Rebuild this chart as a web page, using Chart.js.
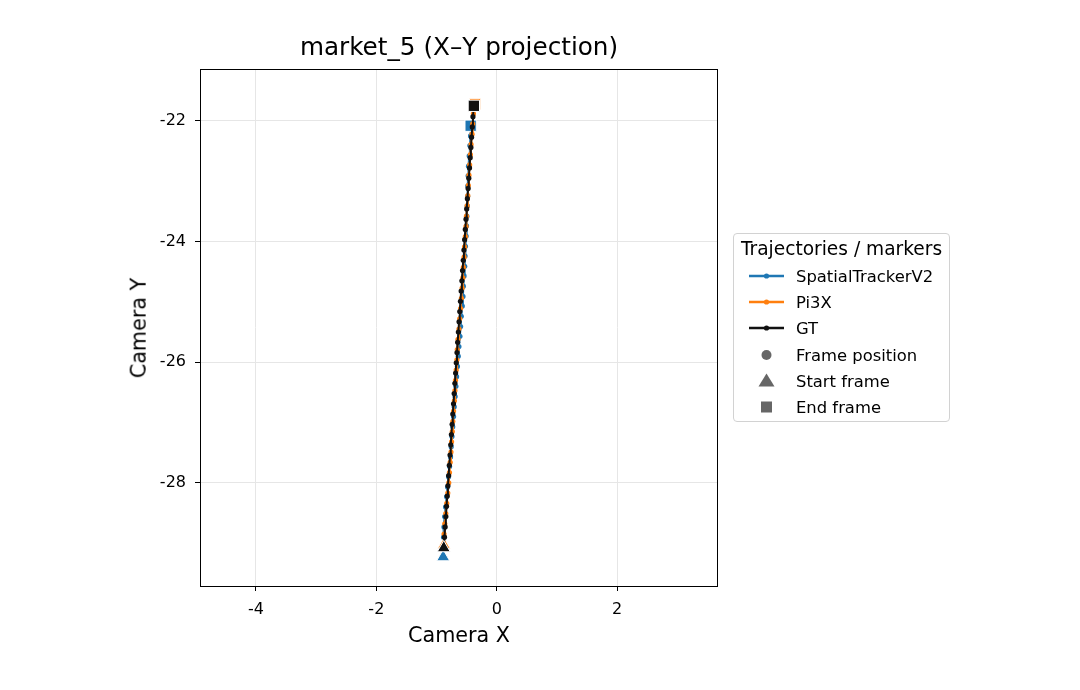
<!DOCTYPE html>
<html>
<head>
<meta charset="utf-8">
<script src="https://cdn.jsdelivr.net/npm/chart.js@4.4.1/dist/chart.umd.min.js"></script>
<style>
  html, body { margin: 0; padding: 0; background: #fff; }
  #wrap { position: relative; width: 1080px; height: 690px; font-family: "DejaVu Sans", sans-serif; color: #000; }
  canvas { position: absolute; left: 0; top: 0; }
  .txt { position: absolute; white-space: nowrap; line-height: 1; }
  #legend { position: absolute; left: 733px; top: 233px; width: 217px; height: 189px; border: 1px solid #d2d2d2; border-radius: 4px; background: rgba(255,255,255,0.85); box-sizing: border-box; }
  #legend .lt { position: absolute; left: 0; width: 100%; text-align: center; font-size: 18.6px; top: 4px; }
  #legend .row { position: absolute; left: 62px; font-size: 16.4px; }
  #legend svg { position: absolute; left: 0; top: 0; }
</style>
</head>
<body>
<div id="wrap">
  <canvas id="c" width="1080" height="690"></canvas>
  <div class="txt" id="title" style="font-size:24.7px; left:459px; top:35px; transform:translateX(-50%);">market_5 (X–Y projection)</div>
  <div class="txt" id="xlab" style="font-size:20.7px; left:459px; top:625px; transform:translateX(-50%);">Camera X</div>
  <div class="txt" id="ylab" style="font-size:20.7px; left:139px; top:328px; transform:translate(-50%,-50%) rotate(-90deg);">Camera Y</div>
  <div id="legend"></div>
</div>
<script>
// ---------------- data ----------------
const seriesNames = ["SpatialTrackerV2", "Pi3X", "GT"];
const seriesColors = ["#1f77b4", "#ff7f0e", "#111111"];

const stX = [-0.890, -0.889, -0.883, -0.876, -0.865, -0.849, -0.832, -0.816, -0.800, -0.783,
             -0.767, -0.756, -0.744, -0.731, -0.717, -0.706, -0.691, -0.678, -0.667, -0.653,
             -0.639, -0.628, -0.611, -0.600, -0.589, -0.572, -0.561, -0.555, -0.543, -0.532,
             -0.526, -0.520, -0.508, -0.502, -0.496, -0.489, -0.483, -0.482, -0.475, -0.469,
             -0.457, -0.446, -0.435, -0.433];
const stY = [-29.23, -29.06, -28.90, -28.73, -28.56, -28.40, -28.23, -28.07, -27.90, -27.73,
             -27.57, -27.40, -27.23, -27.07, -26.90, -26.74, -26.57, -26.40, -26.24, -26.07,
             -25.90, -25.74, -25.57, -25.41, -25.24, -25.07, -24.91, -24.74, -24.57, -24.41,
             -24.24, -24.08, -23.91, -23.74, -23.58, -23.41, -23.25, -23.08, -22.91, -22.75,
             -22.58, -22.41, -22.25, -22.08];

const piX = [-0.877, -0.875, -0.863, -0.846, -0.830, -0.813, -0.797, -0.785, -0.773, -0.760,
             -0.750, -0.738, -0.729, -0.717, -0.703, -0.694, -0.685, -0.673, -0.661, -0.655,
             -0.643, -0.627, -0.615, -0.600, -0.586, -0.575, -0.563, -0.554, -0.542, -0.534,
             -0.521, -0.510, -0.503, -0.492, -0.480, -0.472, -0.462, -0.450, -0.438, -0.427,
             -0.410, -0.399, -0.387, -0.360];
const piY = [-29.03, -28.85, -28.68, -28.51, -28.34, -28.17, -28.00, -27.83, -27.66, -27.49,
             -27.32, -27.15, -26.98, -26.81, -26.64, -26.47, -26.30, -26.13, -25.96, -25.79,
             -25.62, -25.45, -25.28, -25.11, -24.94, -24.77, -24.60, -24.43, -24.26, -24.09,
             -23.92, -23.75, -23.58, -23.41, -23.24, -23.07, -22.90, -22.73, -22.56, -22.39,
             -22.22, -22.05, -21.88, -21.72];

const gtX = [-0.880, -0.868, -0.857, -0.845, -0.834, -0.822, -0.811, -0.799, -0.788, -0.776,
             -0.764, -0.753, -0.741, -0.730, -0.718, -0.707, -0.695, -0.683, -0.672, -0.660,
             -0.649, -0.637, -0.626, -0.614, -0.603, -0.591, -0.579, -0.568, -0.556, -0.545,
             -0.533, -0.522, -0.510, -0.499, -0.487, -0.475, -0.464, -0.452, -0.441, -0.429,
             -0.418, -0.406, -0.395, -0.380];
const gtY = [-29.08, -28.90, -28.73, -28.56, -28.39, -28.22, -28.05, -27.88, -27.71, -27.54,
             -27.37, -27.20, -27.03, -26.86, -26.69, -26.52, -26.35, -26.18, -26.01, -25.84,
             -25.67, -25.50, -25.33, -25.16, -24.99, -24.82, -24.65, -24.48, -24.31, -24.14,
             -23.97, -23.80, -23.63, -23.46, -23.29, -23.12, -22.95, -22.78, -22.61, -22.44,
             -22.27, -22.10, -21.93, -21.75];

const xTicks = [-4, -2, 0, 2];
const yTicks = [-28, -26, -24, -22];
const xRange = [-4.93, 3.66];
const yRange = [-29.71, -21.14];

const legendMarkers = ["Frame position", "Start frame", "End frame"];

// ---------------- build datasets ----------------
const allX = [stX, piX, gtX];
const allY = [stY, piY, gtY];
const datasets = [];
let ord = 100;
for (let s = 0; s < 3; s++) {
  const xs = allX[s], ys = allY[s], col = seriesColors[s];
  const pts = xs.map((x, i) => ({ x: x, y: ys[i] }));
  datasets.push({
    label: seriesNames[s], data: pts, showLine: true,
    borderColor: col, backgroundColor: col, borderWidth: 2,
    pointRadius: 2.6, pointBorderWidth: 0, pointBackgroundColor: col,
    tension: 0, order: ord--
  });
  datasets.push({
    label: seriesNames[s] + " start", data: [pts[0]], showLine: false,
    pointStyle: 'triangle', pointRadius: 7.5, pointBackgroundColor: col,
    pointBorderColor: '#ffffff', pointBorderWidth: 1, order: ord--
  });
  datasets.push({
    label: seriesNames[s] + " end", data: [pts[pts.length - 1]], showLine: false,
    pointStyle: 'rect', pointRadius: 8, pointBackgroundColor: col,
    pointBorderColor: '#ffffff', pointBorderWidth: 1, order: ord--
  });
}

const frameBox = {
  id: 'frameBox',
  afterDraw(chart) {
    const a = chart.chartArea, ctx = chart.ctx;
    ctx.save();
    ctx.strokeStyle = '#000'; ctx.lineWidth = 1;
    ctx.strokeRect(Math.round(a.left) + 0.5, Math.round(a.top) + 0.5,
                   Math.round(a.right - a.left), Math.round(a.bottom - a.top));
    ctx.restore();
  }
};

new Chart(document.getElementById('c'), {
  type: 'scatter',
  data: { datasets: datasets },
  options: {
    responsive: false, animation: false, devicePixelRatio: 1,
    layout: { padding: { top: 69, right: 363, left: 0, bottom: 0 } },
    plugins: { legend: { display: false }, title: { display: false }, tooltip: { enabled: false } },
    scales: {
      x: {
        type: 'linear', min: xRange[0], max: xRange[1],
        afterFit(scale) { scale.height = 104; },
        afterBuildTicks(scale) { scale.ticks = xTicks.map(v => ({ value: v })); },
        ticks: { color: '#000', font: { family: 'DejaVu Sans', size: 16 }, padding: 9,
                 maxRotation: 0, autoSkip: false, callback: v => String(v) },
        grid: { color: '#e6e6e6', lineWidth: 1, tickColor: '#000', tickLength: 5, tickWidth: 1 },
        border: { display: false }
      },
      y: {
        type: 'linear', min: yRange[0], max: yRange[1],
        afterFit(scale) { scale.width = 200; },
        afterBuildTicks(scale) { scale.ticks = yTicks.map(v => ({ value: v })); },
        ticks: { color: '#000', font: { family: 'DejaVu Sans', size: 16 }, padding: 9,
                 autoSkip: false, callback: v => String(v) },
        grid: { color: '#e6e6e6', lineWidth: 1, tickColor: '#000', tickLength: 5, tickWidth: 1 },
        border: { display: false }
      }
    }
  },
  plugins: [frameBox]
});

// ---------------- legend (HTML) ----------------
const lg = document.getElementById('legend');
let html = '<div class="lt">Trajectories / markers</div>';
let svg = '<svg width="217" height="189" xmlns="http://www.w3.org/2000/svg">';
const rowY = [42, 68, 94, 121, 147, 173];
for (let s = 0; s < 3; s++) {
  const y = rowY[s];
  svg += `<line x1="15" y1="${y}" x2="50" y2="${y}" stroke="${seriesColors[s]}" stroke-width="2.5"/>`;
  svg += `<circle cx="32.5" cy="${y}" r="2.6" fill="${seriesColors[s]}"/>`;
  html += `<div class="row" style="top:${y - 9}px">${seriesNames[s]}</div>`;
}
const gray = '#666666';
svg += `<circle cx="32.5" cy="${rowY[3]}" r="5" fill="${gray}"/>`;
svg += `<polygon points="32.5,${rowY[4] - 7.5} 40.5,${rowY[4] + 5.5} 24.5,${rowY[4] + 5.5}" fill="${gray}"/>`;
svg += `<rect x="27" y="${rowY[5] - 5.5}" width="11" height="11" fill="${gray}"/>`;
for (let k = 0; k < 3; k++) {
  html += `<div class="row" style="top:${rowY[3 + k] - 9}px">${legendMarkers[k]}</div>`;
}
svg += '</svg>';
lg.innerHTML = svg + html;
</script>
</body>
</html>
